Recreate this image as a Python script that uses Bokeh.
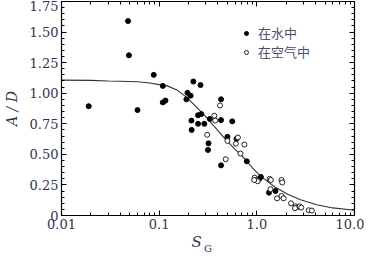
from bokeh.plotting import figure
from bokeh.models import (FixedTicker, LogAxis, LinearAxis, Legend, LegendItem,
                          Range1d)
from bokeh.embed import file_html
from bokeh.resources import INLINE

# In water (filled)
water_sg = [0.019, 0.048, 0.049, 0.060, 0.088, 0.109, 0.109, 0.116,
            0.224, 0.265, 0.195, 0.21, 0.19, 0.43, 0.25, 0.27, 0.33, 0.43,
            0.214, 0.25, 0.29, 0.56, 0.215, 0.50, 0.62, 0.32, 0.316, 0.79,
            0.43, 1.10, 1.06, 1.55, 1.33]
water_ad = [0.894, 1.59, 1.31, 0.862, 1.15, 1.06, 0.925, 0.94,
            1.096, 1.067, 1.003, 0.98, 0.95, 0.95, 0.82, 0.83, 0.79, 0.78,
            0.776, 0.75, 0.75, 0.77, 0.70, 0.643, 0.627, 0.59, 0.536, 0.443,
            0.41, 0.315, 0.30, 0.20, 0.187]
# In air (open)
air_sg = [0.42, 0.367, 0.375, 0.31, 0.50, 0.64, 0.61, 0.745, 0.48, 0.68,
          0.95, 0.98, 1.02, 0.94, 1.35, 1.39, 1.79, 1.82, 1.38, 1.61, 1.79,
          1.88, 2.24, 2.5, 2.65, 2.75, 2.85, 2.46, 3.4, 3.66]
air_ad = [0.90, 0.816, 0.776, 0.66, 0.61, 0.638, 0.587, 0.58, 0.46, 0.507,
          0.31, 0.29, 0.28, 0.29, 0.30, 0.29, 0.29, 0.27, 0.215, 0.14, 0.16,
          0.14, 0.10, 0.075, 0.07, 0.075, 0.065, 0.06, 0.043, 0.04]
# Fitted curve
fit_sg = [0.01, 0.02, 0.03, 0.04, 0.06, 0.08, 0.1, 0.121, 0.152, 0.19, 0.24,
          0.30, 0.38, 0.48, 0.60, 0.76, 0.9, 1.1, 1.3, 1.52, 2.07, 2.8, 4.1,
          6.0, 10.0]
fit_ad = [1.107, 1.105, 1.10, 1.098, 1.094, 1.083, 1.07, 1.06, 1.027, 0.968,
          0.888, 0.808, 0.715, 0.62, 0.54, 0.46, 0.39, 0.32, 0.275, 0.235,
          0.174, 0.128, 0.088, 0.062, 0.043]

x_ticks = [0.01, 0.1, 1.0, 10.0]
x_tick_labels = ["0.01", "0.1", "1.0", "10.0"]
y_ticks = [0, 0.25, 0.5, 0.75, 1.0, 1.25, 1.5, 1.75]
y_tick_labels = ["0", "0.25", "0.50", "0.75", "1.00", "1.25", "1.50", "1.75"]
legend_labels = ["在水中", "在空气中"]
x_title_main, x_title_sub = "S", "G"
y_title = "A / D"

x_minor = [m * d for d in [0.01, 0.1, 1.0] for m in range(2, 10)]
y_minor = [i * 0.05 for i in range(36)]

TXT = "#2e3550"
SERIF = "DejaVu Serif"

p = figure(width=364, height=256, x_axis_type="log",
           x_range=Range1d(0.01, 10), y_range=Range1d(0, 1.75),
           output_backend="svg", toolbar_location=None)
p.min_border_left = 54
p.min_border_top = 1
p.min_border_right = 10
p.min_border_bottom = 34
p.grid.visible = False
p.outline_line_color = "black"
p.outline_line_width = 1.2
p.background_fill_color = "white"
p.border_fill_color = "white"


def style(ax, ticks, minor, labels):
    ax.ticker = FixedTicker(ticks=ticks, minor_ticks=minor)
    ax.major_tick_in = 5
    ax.major_tick_out = 0
    ax.minor_tick_in = 3
    ax.minor_tick_out = 0
    ax.axis_line_color = "black"
    ax.major_tick_line_color = "black"
    ax.minor_tick_line_color = "black"
    ax.major_label_overrides = labels
    ax.major_label_text_font = SERIF
    ax.major_label_text_font_size = "13px"
    ax.major_label_text_color = TXT
    ax.major_label_standoff = 3


style(p.xaxis[0], x_ticks, x_minor, {v: s for v, s in zip(x_ticks, x_tick_labels)})
style(p.yaxis[0], y_ticks, y_minor, {v: s for v, s in zip(y_ticks, y_tick_labels)})

# x title: italic S (shifted left with a trailing space) ...
xa = p.xaxis[0]
xa.axis_label = x_title_main + "\u2003\u2002"
xa.axis_label_text_font = SERIF
xa.axis_label_text_font_style = "italic"
xa.axis_label_text_font_size = "15px"
xa.axis_label_text_color = TXT
xa.axis_label_standoff = 1

# ... and its subscript G, carried by a bare axis pulled up beside it
sub = LinearAxis(ticker=FixedTicker(ticks=[]), axis_line_color=None,
                 major_tick_line_color=None, minor_tick_line_color=None,
                 major_label_text_font_size="10px")
sub.axis_label = x_title_sub
sub.axis_label_text_font = SERIF
sub.axis_label_text_font_style = "normal"
sub.axis_label_text_font_size = "10px"
sub.axis_label_text_color = TXT
sub.axis_label_standoff = -11
p.add_layout(sub, "below")

ya = p.yaxis[0]
ya.axis_label = y_title
ya.axis_label_text_font = SERIF
ya.axis_label_text_font_style = "italic"
ya.axis_label_text_font_size = "14px"
ya.axis_label_text_color = TXT
ya.axis_label_standoff = 7

top = LogAxis()
style(top, x_ticks, x_minor, {v: "" for v in x_ticks})
top.major_label_standoff = 0
right = LinearAxis()
style(right, y_ticks, y_minor, {v: "" for v in y_ticks})
right.major_label_standoff = 0
p.add_layout(top, "above")
p.add_layout(right, "right")

p.line(fit_sg, fit_ad, line_color="#333333", line_width=1.1)
rw = p.scatter(water_sg, water_ad, size=5, marker="circle",
               fill_color="black", line_color="black")
ra = p.scatter(air_sg, air_ad, size=5, marker="circle",
               fill_color="white", line_color="#222222", line_width=1)

legend = Legend(items=[LegendItem(label=legend_labels[0], renderers=[rw]),
                       LegendItem(label=legend_labels[1], renderers=[ra])],
                location=(180, 154), border_line_color=None,
                background_fill_alpha=0, label_text_font="Noto Sans CJK SC",
                label_text_font_size="13px", label_text_color="#4a5070",
                glyph_width=10, glyph_height=14, label_height=14, spacing=0,
                padding=0, margin=0, label_standoff=7)
p.add_layout(legend)

open("out.html", "w").write(file_html(p, INLINE))
